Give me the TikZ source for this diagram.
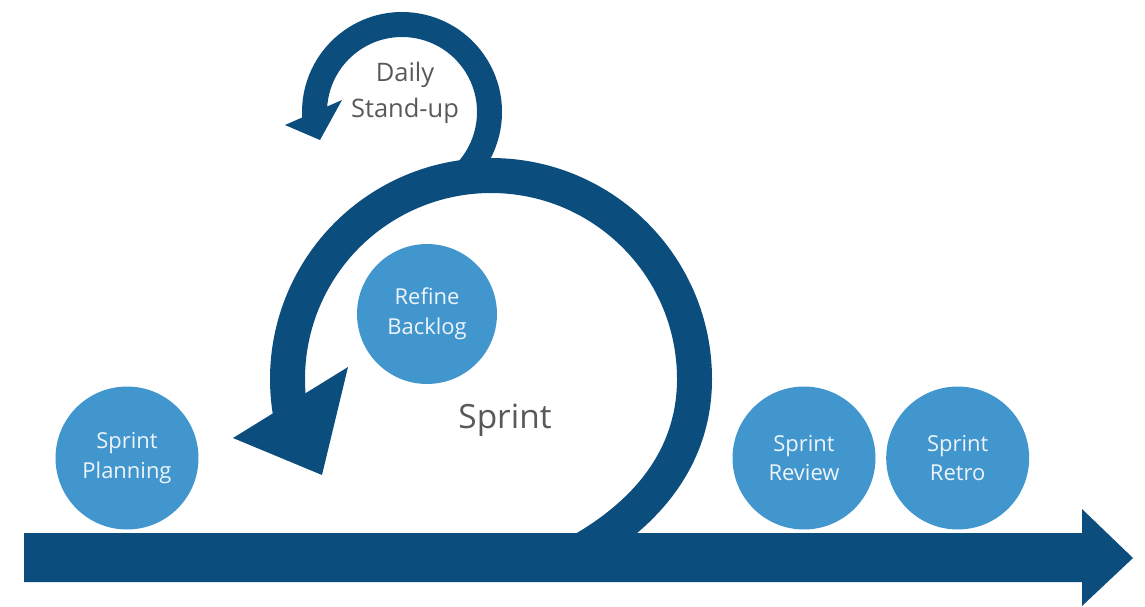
\documentclass[tikz,border=0pt]{standalone}
\usepackage{fontspec}
\setmainfont{Open Sans}
\usetikzlibrary{positioning}
\definecolor{cFlow}{HTML}{0B4D7D}
\definecolor{cStep}{HTML}{4296CE}
\definecolor{cStepTx}{HTML}{EEF4FA}
\definecolor{cLabel}{HTML}{595959}
\tikzset{
  stepnode/.style={circle, fill=cStep, text=cStepTx, align=center, inner sep=0pt,
    minimum size=2.86cm, font=\fontsize{12.5}{17}\selectfont},
  ring/.style={draw=cFlow, line width=0.7cm},
  loopring/.style={draw=cFlow, line width=0.5cm},
  tiphead/.style={fill=cFlow},
  lbl/.style={text=cLabel, align=center, inner sep=0pt},
}

\begin{document}
\begin{tikzpicture}[x=0.02cm, y=-0.02cm]
    \useasboundingbox (0,0) rectangle (1145,606);
    \coordinate (sprintc) at (491,379);
    \coordinate (dailyc) at (402,112);
    % daily loop
    \draw[loopring] ([shift={(55:87.5)}]dailyc) arc[start angle=55, end angle=-185, radius=87.5];
    \coordinate (dtipA) at (342,100);
    \coordinate (dtipB) at (285,125);
    \coordinate (dtip) at (320,140);
    \fill[tiphead] (dtipA) -- (dtipB) -- (dtip) -- cycle;
    % sprint loop
    \coordinate (sstart) at (560,562);
    \draw[ring] (sstart) .. controls (655,515) and (694.5,450) .. ([shift={(0:203.5)}]sprintc)
      arc[start angle=0, end angle=-192, radius=203.5];
    \coordinate (stipA) at (348,367);
    \coordinate (stipB) at (233,438);
    \coordinate (stip) at (322,475);
    \fill[tiphead] (stipA) -- (stipB) -- (stip) -- cycle;
    % timeline
    \fill[cFlow] (24,533) -- (1082,533) -- (1082,509) -- (1133,558) -- (1082,606)
      -- (1082,582) -- (24,582) -- cycle;
    % events
    \node[stepnode] (plan) at (127,458) {Sprint\\Planning};
    \node[stepnode, minimum size=2.8cm] (refine) at (427,314) {Refine\\Backlog};
    \node[stepnode] (review) at (804,458) {Sprint\\Review};
    \node[stepnode, right=0.2cm of review] (retro) {Sprint\\Retro};
    % labels
    \node[lbl, font=\fontsize{19}{23}\selectfont, anchor=base] (sprint) at (505,428) {Sprint};
    \node[lbl, font=\fontsize{14.5}{20.5}\selectfont] (daily) at (405,93) {Daily\\Stand-up};
\end{tikzpicture}
\end{document}
